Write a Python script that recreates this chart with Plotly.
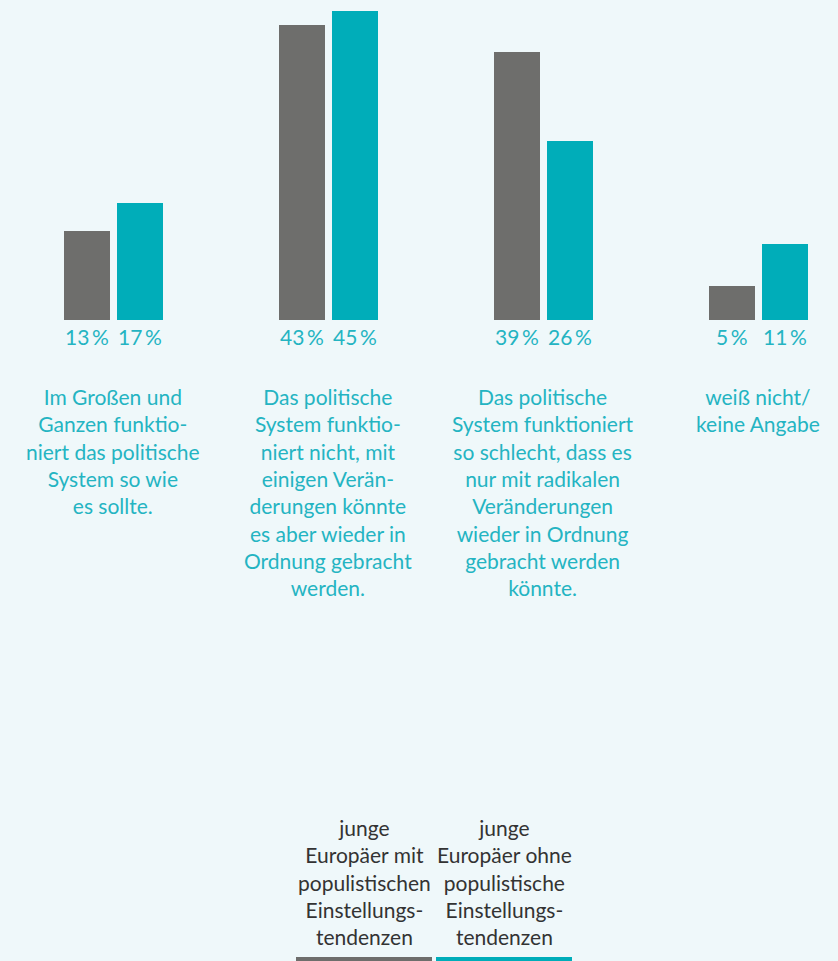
import plotly.graph_objects as go

categories = [
    "Im Großen und<br>Ganzen funktio-<br>niert das politische<br>System so wie<br>es sollte.",
    "Das politische<br>System funktio-<br>niert nicht, mit<br>einigen Verän-<br>derungen könnte<br>es aber wieder in<br>Ordnung gebracht<br>werden.",
    "Das politische<br>System funktioniert<br>so schlecht, dass es<br>nur mit radikalen<br>Veränderungen<br>wieder in Ordnung<br>gebracht werden<br>könnte.",
    "weiß nicht/<br>keine Angabe",
]
series_names = [
    "junge<br>Europäer mit<br>populistischen<br>Einstellungs-<br>tendenzen",
    "junge<br>Europäer ohne<br>populistische<br>Einstellungs-<br>tendenzen",
]
with_populist = [13, 43, 39, 5]
without_populist = [17, 45, 26, 11]

W, H = 838, 961
BG = "#eff8fa"
GRAY = "#6e6e6c"
TEAL = "#00adb9"
TEXT_TEAL = "#24b4c2"
FONT = "Lato"

px_per_unit = 215.0
x0_px = 113.0
bar_w = 46 / px_per_unit
offs = [-49 / px_per_unit, 4 / px_per_unit]
base_px = 320.0
px_per_pct = 6.87

xs = list(range(len(categories)))
fig = go.Figure()
for vals, col, off in [(with_populist, GRAY, offs[0]), (without_populist, TEAL, offs[1])]:
    fig.add_trace(go.Bar(x=xs, y=vals, marker=dict(color=col, line=dict(width=0)),
                         width=bar_w, offset=off, showlegend=False, hoverinfo="skip"))

def ypaper(py):
    return 1 - py / H

annotations = []
for i in xs:
    for vals, off in [(with_populist, offs[0]), (without_populist, offs[1])]:
        annotations.append(dict(x=i + off + bar_w / 2, xref="x", y=ypaper(336), yref="paper",
                                text=f"{vals[i]}\u2009%", showarrow=False, xanchor="center",
                                yanchor="middle", font=dict(family=FONT, size=21, color=TEXT_TEAL)))
    annotations.append(dict(x=i, xref="x", y=ypaper(382), yref="paper", text=categories[i],
                            showarrow=False, xanchor="center", yanchor="top", align="center",
                            font=dict(family=FONT, size=21, color=TEXT_TEAL)))

legend_cx = [364, 504]
legend_cols = [GRAY, TEAL]
shapes = []
for name, cx, col in zip(series_names, legend_cx, legend_cols):
    annotations.append(dict(x=cx / W, xref="paper", y=ypaper(813), yref="paper", text=name,
                            showarrow=False, xanchor="center", yanchor="top", align="center",
                            font=dict(family=FONT, size=21, color="#333333")))
    shapes.append(dict(type="rect", xref="paper", yref="paper", x0=(cx - 68) / W, x1=(cx + 68) / W,
                       y0=ypaper(965), y1=ypaper(957), fillcolor=col, line=dict(width=0)))

fig.update_layout(
    width=W, height=H, paper_bgcolor=BG, plot_bgcolor=BG,
    margin=dict(l=0, r=0, t=0, b=0),
    xaxis=dict(range=[-x0_px / px_per_unit, (W - x0_px) / px_per_unit], domain=[0, 1],
               visible=False, fixedrange=True),
    yaxis=dict(range=[0, base_px / px_per_pct], domain=[1 - base_px / H, 1],
               visible=False, fixedrange=True),
    annotations=annotations, shapes=shapes, bargap=0,
)
fig.write_html("out.html", config={"displayModeBar": False},
               post_script="document.body.style.margin='0';document.body.style.background='%s';" % BG)
